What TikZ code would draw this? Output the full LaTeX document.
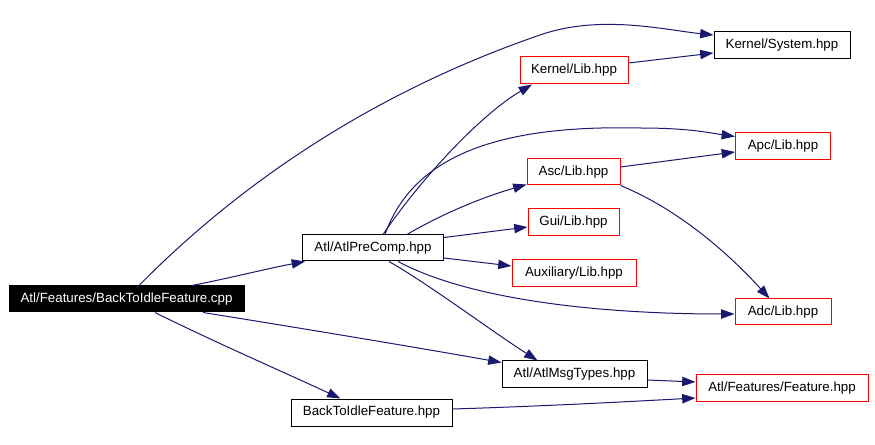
\documentclass[tikz,border=0pt]{standalone}
\usepackage{fontspec}
\setmainfont{Liberation Sans}
\usetikzlibrary{arrows.meta,calc}
\definecolor{edgeblue}{HTML}{191970}
\begin{document}
\begin{tikzpicture}[x=0.75pt,y=-0.75pt,
  box/.style={draw=black,line width=0.75pt,inner sep=0pt,font=\fontsize{10pt}{12pt}\selectfont,fill=white},
  redbox/.style={box,draw=red},
  rootbox/.style={box,fill=black,text=white},
  dep/.style={draw=edgeblue,line width=0.75pt,-{Triangle[length=10pt,width=7pt]},fill=none},
]
\useasboundingbox[fill=white] (0,0) rectangle (875,445);

% nodes
\node[rootbox,minimum width=235*0.75pt,minimum height=26*0.75pt] (cpp) at (126.5,299) {Atl/Features/BackToIdleFeature.cpp};
\node[box,minimum width=141*0.75pt,minimum height=26*0.75pt] (pre) at (373,248) {Atl/AtlPreComp.hpp};
\node[box,minimum width=136*0.75pt,minimum height=27*0.75pt] (sys) at (782,45.5) {Kernel/System.hpp};
\node[redbox,minimum width=108*0.75pt,minimum height=27*0.75pt] (klib) at (574,70.5) {Kernel/Lib.hpp};
\node[redbox,minimum width=95*0.75pt,minimum height=27*0.75pt] (apc) at (783,146.5) {Apc/Lib.hpp};
\node[redbox,minimum width=93*0.75pt,minimum height=26*0.75pt] (asc) at (573.5,172) {Asc/Lib.hpp};
\node[redbox,minimum width=91*0.75pt,minimum height=27*0.75pt] (gui) at (573.5,222.5) {Gui/Lib.hpp};
\node[redbox,minimum width=124*0.75pt,minimum height=27*0.75pt] (aux) at (574,273.5) {Auxiliary/Lib.hpp};
\node[redbox,minimum width=96*0.75pt,minimum height=26*0.75pt] (adc) at (783,312) {Adc/Lib.hpp};
\node[box,minimum width=145*0.75pt,minimum height=27*0.75pt] (msg) at (574.5,374.5) {Atl/AtlMsgTypes.hpp};
\node[redbox,minimum width=172*0.75pt,minimum height=26*0.75pt] (feat) at (782,388) {Atl/Features/Feature.hpp};
\node[box,minimum width=161*0.75pt,minimum height=27*0.75pt] (bif) at (371.5,412.5) {BackToIdleFeature.hpp};

% edges
\draw[dep] ($(cpp.north)+(12.5,0)$) .. controls (245,178) and (380,90) .. (540,35)
  .. controls (600,14) and (665,30) .. ($(sys.west)+(0,-10.5)$);
\draw[dep] ($(cpp.north)+(65.5,0)$) .. controls (230,278) and (270,268) .. ($(pre.south west)+(3,0)$);
\draw[dep] ($(cpp.south)+(76.5,0)$) .. controls (300,328) and (420,348) .. ($(msg.north west)+(0,2)$);
\draw[dep] ($(cpp.south)+(28.5,0)$) .. controls (210,340) and (290,375) .. ($(bif.north west)+(50,0)$);

\draw[dep] ($(pre.north)+(10,0)$) .. controls (420,180) and (480,115) .. ($(klib.south west)+(12.5,0)$);
\draw[dep] ($(pre.north)+(12,0)$) .. controls (415,150) and (510,125) .. (640,128)
  .. controls (690,128) and (710,133) .. ($(apc.north west)+(0,4)$);
\draw[dep] ($(pre.north)+(34,0)$) .. controls (440,215) and (480,198) .. ($(asc.south west)+(0,-1)$);
\draw[dep] ($(pre.north east)+(0,3)$) -- ($(gui.west)+(0,4.5)$);
\draw[dep] ($(pre.south east)+(0,-3.5)$) -- ($(aux.west)+(0,-7.5)$);
\draw[dep] ($(pre.south)+(25,0)$) .. controls (470,300) and (600,314) .. ($(adc.west)+(0,2)$);
\draw[dep] ($(pre.south)+(16,0)$) .. controls (430,285) and (490,330) .. ($(msg.north west)+(36,0)$);

\draw[dep] ($(klib.east)+(0,-7.5)$) -- ($(sys.west)+(0,7.5)$);
\draw[dep] ($(asc.east)+(0,-5)$) -- ($(apc.west)+(0,5.5)$);
\draw[dep] ($(asc.south east)+(0,0)$) .. controls (680,210) and (730,255) .. ($(adc.north west)+(35,0)$);

\draw[dep] ($(msg.east)+(0,5.5)$) -- ($(feat.west)+(0,-6)$);
\draw[dep] ($(bif.east)+(0,-3.5)$) .. controls (550,406) and (640,401) .. ($(feat.west)+(0,10)$);
\end{tikzpicture}
\end{document}
